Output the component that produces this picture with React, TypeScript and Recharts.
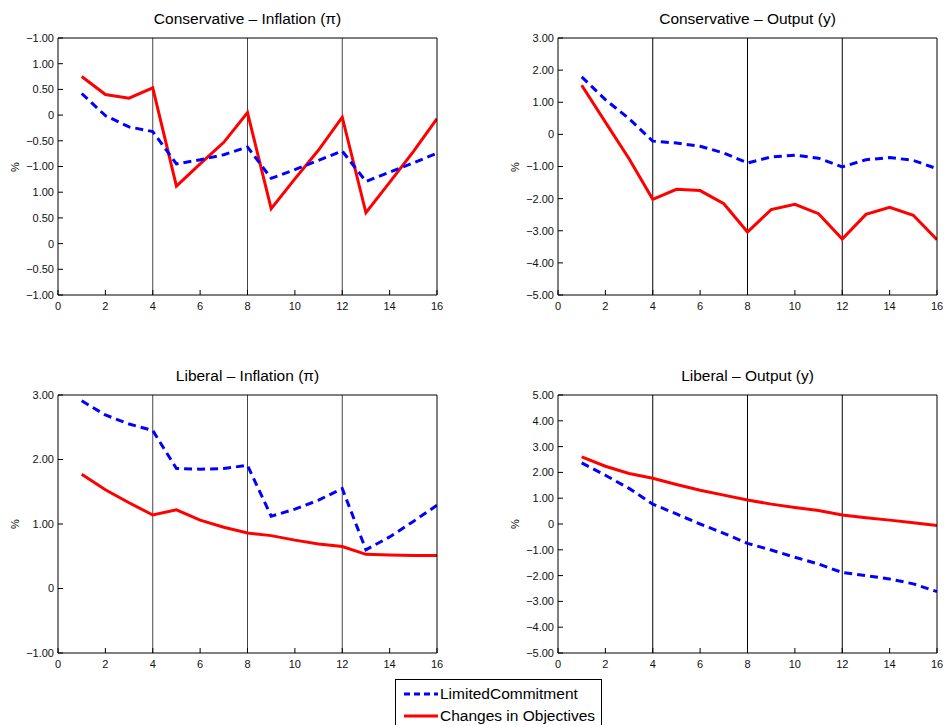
import { LineChart, Line, XAxis, YAxis, ReferenceLine } from 'recharts';

const periods = [1, 2, 3, 4, 5, 6, 7, 8, 9, 10, 11, 12, 13, 14, 15, 16];
const xTicks = [0, 2, 4, 6, 8, 10, 12, 14, 16];
const breaks = [4, 8, 12];

// Conservative – Inflation (axis labels in the source repeat, kept as printed)
const consInfLimited = [1.42, 0.99, 0.77, 0.68, 0.05, 0.13, 0.23, 0.38, -0.23, -0.06, 0.12, 0.3, -0.29, -0.11, 0.07, 0.26];
const consInfChanges = [1.75, 1.4, 1.33, 1.53, -0.38, 0.05, 0.47, 1.05, -0.82, -0.24, 0.32, 0.96, -0.9, -0.31, 0.29, 0.93];
const consInfTicks = [-2.5, -2, -1.5, -1, -0.5, 0, 0.5, 1, 1.5, 2, 2.5];
const consInfTickLabels = ['−1.00', '−0.50', '0', '0.50', '1.00', '−1.00', '−0.50', '0', '0.50', '1.00', '−1.00'];

// Conservative – Output
const consOutLimited = [1.79, 1.08, 0.49, -0.21, -0.27, -0.37, -0.58, -0.89, -0.7, -0.65, -0.74, -1.01, -0.79, -0.72, -0.81, -1.07];
const consOutChanges = [1.53, 0.38, -0.76, -2.02, -1.71, -1.75, -2.16, -3.04, -2.34, -2.18, -2.47, -3.26, -2.49, -2.27, -2.52, -3.28];
const consOutTicks = [-5, -4, -3, -2, -1, 0, 1, 2, 3];

// Liberal – Inflation
const libInfLimited = [2.91, 2.69, 2.55, 2.45, 1.86, 1.85, 1.86, 1.91, 1.12, 1.23, 1.37, 1.55, 0.6, 0.8, 1.04, 1.29];
const libInfChanges = [1.77, 1.53, 1.33, 1.14, 1.22, 1.06, 0.95, 0.86, 0.82, 0.75, 0.69, 0.65, 0.53, 0.52, 0.51, 0.51];
const libInfTicks = [-1, 0, 1, 2, 3];

// Liberal – Output
const libOutLimited = [2.37, 1.89, 1.38, 0.77, 0.39, 0.0, -0.36, -0.75, -1.01, -1.29, -1.55, -1.88, -2.0, -2.13, -2.32, -2.62];
const libOutChanges = [2.6, 2.24, 1.96, 1.77, 1.53, 1.31, 1.12, 0.93, 0.77, 0.64, 0.52, 0.35, 0.24, 0.15, 0.05, -0.06];
const libOutTicks = [-5, -4, -3, -2, -1, 0, 1, 2, 3, 4, 5];

const FONT = '"Liberation Sans", Arial, Helvetica, sans-serif';
const BLUE = '#0000ff';
const RED = '#ff0000';

const fmt = (v: number) => (v === 0 ? '0' : v.toFixed(2).replace('-', '−'));

type PanelProps = {
  title: string;
  left: number;
  top: number;
  plotH: number;
  limited: number[];
  changes: number[];
  yTicks: number[];
  yLabels?: string[];
  breakColor: string;
};

function Panel({ title, left, top, plotH, limited, changes, yTicks, yLabels, breakColor }: PanelProps) {
  const plotW = 379;
  const data = periods.map((t, i) => ({ t, lc: limited[i], co: changes[i] }));
  const yFmt = (v: number) => {
    if (yLabels) {
      const idx = yTicks.indexOf(v);
      return idx >= 0 ? yLabels[idx] : '';
    }
    return fmt(v);
  };
  const domain: [number, number] = [yTicks[0], yTicks[yTicks.length - 1]];
  const tickStyle = { fill: '#111', fontSize: 11, fontFamily: FONT };

  return (
    <>
      <div
        style={{
          position: 'absolute',
          left: left - 40,
          top: top - 28,
          width: plotW + 80,
          textAlign: 'center',
          fontFamily: FONT,
          fontSize: 15.5,
          color: '#000',
          lineHeight: '18px',
          whiteSpace: 'nowrap',
        }}
      >
        {title}
      </div>
      <div
        style={{
          position: 'absolute',
          left: left - 50,
          top: top + plotH / 2 - 7,
          width: 14,
          height: 14,
          lineHeight: '14px',
          textAlign: 'center',
          fontFamily: FONT,
          fontSize: 11,
          transform: 'rotate(-90deg)',
        }}
      >
        %
      </div>
      <div style={{ position: 'absolute', left: left - 60, top: top - 10 }}>
        <LineChart
          width={plotW + 70}
          height={plotH + 35}
          data={data}
          margin={{ top: 9, right: 9, bottom: 0, left: 0 }}
        >
          <XAxis
            dataKey="t"
            type="number"
            domain={[0, 16]}
            ticks={xTicks}
            height={25}
            tickSize={-5}
            tickMargin={12}
            tick={tickStyle}
            stroke="#000"
            tickLine={{ stroke: '#000' }}
            allowDataOverflow
          />
          <XAxis
            xAxisId="top"
            orientation="top"
            type="number"
            domain={[0, 16]}
            ticks={xTicks}
            height={1}
            tickSize={-5}
            tick={false}
            stroke="#000"
            allowDataOverflow
          />
          <YAxis
            type="number"
            domain={domain}
            ticks={yTicks}
            width={60}
            tickSize={-5}
            tickMargin={9}
            tick={tickStyle}
            tickFormatter={yFmt}
            stroke="#000"
            interval={0}
            allowDataOverflow
          />
          <YAxis
            yAxisId="right"
            orientation="right"
            type="number"
            domain={domain}
            ticks={yTicks}
            width={1}
            tickSize={-5}
            tick={false}
            stroke="#000"
            interval={0}
            allowDataOverflow
          />
          {breaks.map((b) => (
            <ReferenceLine key={b} x={b} stroke={breakColor} strokeWidth={1} />
          ))}
          <Line
            dataKey="co"
            stroke={RED}
            strokeWidth={3}
            dot={false}
            isAnimationActive={false}
          />
          <Line
            dataKey="lc"
            stroke={BLUE}
            strokeWidth={3}
            strokeDasharray="8 5"
            dot={false}
            isAnimationActive={false}
          />
        </LineChart>
      </div>
    </>
  );
}

function LegendBox() {
  const row = (label: string, color: string, dash: string | undefined, y: number) => (
    <div style={{ position: 'absolute', left: 0, top: y - 10, height: 20, display: 'flex', alignItems: 'center' }}>
      <svg width={43} height={20} style={{ display: 'block' }}>
        <line x1={8} y1={10} x2={42} y2={10} stroke={color} strokeWidth={3} strokeDasharray={dash} />
      </svg>
      <span style={{ fontFamily: FONT, fontSize: 15.5, color: '#000', marginLeft: 1, whiteSpace: 'nowrap' }}>
        {label}
      </span>
    </div>
  );
  return (
    <div
      style={{
        position: 'absolute',
        left: 395,
        top: 679,
        width: 207,
        height: 60,
        border: '1px solid #000',
        background: '#fff',
        boxSizing: 'border-box',
      }}
    >
      {row('LimitedCommitment', BLUE, '6 4', 14)}
      {row('Changes in Objectives', RED, undefined, 36)}
    </div>
  );
}

export default function App() {
  return (
    <div
      style={{
        position: 'relative',
        width: 945,
        height: 725,
        overflow: 'hidden',
        background: '#fff',
      }}
    >
      <style>{'html, body { margin: 0; padding: 0; }'}</style>
      <Panel
        title="Conservative – Inflation (π)"
        left={58}
        top={38}
        plotH={257}
        limited={consInfLimited}
        changes={consInfChanges}
        yTicks={consInfTicks}
        yLabels={consInfTickLabels}
        breakColor="#444"
      />
      <Panel
        title="Conservative – Output (y)"
        left={558}
        top={38}
        plotH={257}
        limited={consOutLimited}
        changes={consOutChanges}
        yTicks={consOutTicks}
        breakColor="#000"
      />
      <Panel
        title="Liberal – Inflation (π)"
        left={58}
        top={395}
        plotH={258}
        limited={libInfLimited}
        changes={libInfChanges}
        yTicks={libInfTicks}
        breakColor="#444"
      />
      <Panel
        title="Liberal – Output (y)"
        left={558}
        top={395}
        plotH={258}
        limited={libOutLimited}
        changes={libOutChanges}
        yTicks={libOutTicks}
        breakColor="#000"
      />
      <LegendBox />
    </div>
  );
}
